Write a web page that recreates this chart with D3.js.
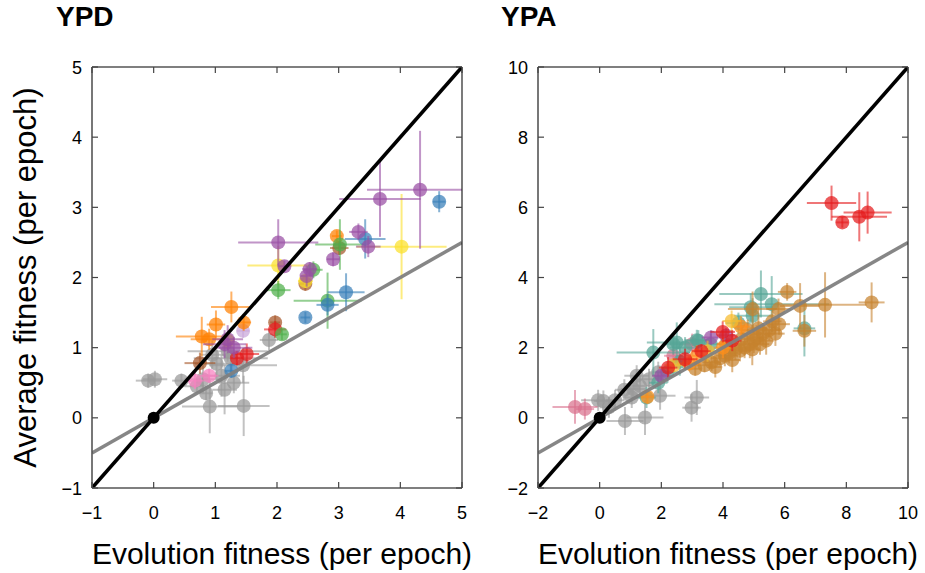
<!DOCTYPE html>
<html>
<head>
<meta charset="utf-8">
<script src="https://cdn.jsdelivr.net/npm/d3@7"></script>
<style>
  html, body { margin: 0; padding: 0; background: #fff; }
  svg { display: block; }
  text { font-family: "Liberation Sans", Arial, Helvetica, sans-serif; }
</style>
</head>
<body>
<svg id="chart" width="925" height="573"></svg>
<script>
// Each point: [evolution fitness, average fitness, x error, y error]
const ypdGray = [
  [-0.09, 0.53, 0.20, 0.10], [0.02, 0.55, 0.20, 0.12], [0.45, 0.53, 0.15, 0.10],
  [0.91, 0.16, 0.45, 0.38], [1.46, 0.17, 0.42, 0.43], [1.87, 1.11, 0.15, 0.15],
  [1.02, 0.77, 0.35, 0.20], [1.10, 0.60, 0.30, 0.30], [1.25, 0.85, 0.60, 0.20],
  [0.80, 0.55, 0.30, 0.20], [1.30, 0.50, 0.25, 0.15], [0.95, 0.90, 0.20, 0.20],
  [1.15, 0.40, 0.20, 0.35], [0.70, 0.45, 0.20, 0.10], [1.45, 0.75, 0.55, 0.25],
  [0.85, 0.35, 0.10, 0.10], [1.20, 0.95, 0.65, 0.15]
];
const ypdPink = [[0.67, 0.53, 0.15, 0.12], [0.90, 0.60, 0.15, 0.10]];
const ypdLilac = [[1.45, 1.24, 0.10, 0.10]];
const ypdBrown = [[3.01, 2.42, 0.15, 0.10], [2.46, 1.91, 0.10, 0.10], [1.97, 1.36, 0.08, 0.10], [0.75, 0.78, 0.25, 0.15]];
const ypdRed = [[1.97, 1.26, 0.18, 0.12], [1.51, 0.91, 0.20, 0.15], [1.35, 0.85, 0.10, 0.10]];
const ypdOrange = [
  [2.97, 2.59, 0.08, 0.08], [1.26, 1.58, 0.33, 0.22], [1.01, 1.33, 0.15, 0.20],
  [1.46, 1.36, 0.12, 0.12], [0.78, 1.16, 0.42, 0.28], [0.90, 1.12, 0.30, 0.15]
];
const ypdYellow = [[4.02, 2.44, 0.73, 0.75], [2.02, 2.17, 0.50, 0.28], [2.46, 1.95, 0.12, 0.10], [1.20, 1.10, 0.10, 0.10]];
const ypdGreen = [
  [3.02, 2.47, 0.40, 0.36], [2.02, 1.82, 0.20, 0.13], [2.59, 2.11, 0.15, 0.12],
  [2.82, 1.67, 0.55, 0.40], [2.08, 1.19, 0.08, 0.08]
];
const ypdBlue = [
  [4.63, 3.08, 0.10, 0.15], [3.43, 2.55, 0.33, 0.28], [3.12, 1.79, 0.30, 0.27],
  [2.82, 1.61, 0.18, 0.15], [2.46, 1.43, 0.08, 0.08], [1.26, 0.67, 0.10, 0.10]
];
const ypdPurple = [
  [4.32, 3.25, 0.86, 0.84], [3.67, 3.12, 0.66, 0.54], [2.02, 2.50, 0.65, 0.33],
  [3.32, 2.65, 0.15, 0.12], [3.48, 2.44, 0.20, 0.15], [2.91, 2.26, 0.10, 0.10],
  [2.53, 2.12, 0.12, 0.10], [2.48, 2.02, 0.10, 0.15], [2.12, 2.16, 0.10, 0.08],
  [1.15, 1.05, 0.35, 0.20], [1.30, 1.00, 0.30, 0.15], [1.20, 1.12, 0.25, 0.20]
];

const ypaGray = [
  [-0.05, 0.50, 0.55, 0.30], [0.12, 0.48, 0.30, 0.30], [0.82, -0.09, 0.60, 0.40],
  [1.47, 0.01, 0.60, 0.50], [1.09, 0.82, 0.40, 0.30], [1.96, 0.63, 0.50, 0.40],
  [3.15, 0.58, 0.40, 0.50], [2.98, 0.29, 0.30, 0.40], [1.31, 0.91, 0.40, 0.30],
  [1.04, 0.58, 0.30, 0.30], [0.50, 0.50, 0.30, 0.30], [0.30, 0.30, 0.30, 0.30],
  [1.60, 1.10, 0.50, 0.30], [1.20, 1.20, 0.40, 0.30], [0.80, 0.80, 0.30, 0.30],
  [1.90, 1.30, 0.30, 0.30]
];
const ypaPink = [[-0.80, 0.31, 0.73, 0.48], [-0.48, 0.25, 0.30, 0.30], [2.39, 1.77, 0.30, 0.30], [3.00, 2.10, 0.30, 0.30]];
const ypaTeal = [
  [5.23, 3.53, 1.35, 0.67], [5.58, 3.24, 1.86, 0.80], [6.64, 2.55, 0.35, 0.80],
  [4.96, 2.91, 0.60, 0.50], [4.90, 3.15, 0.70, 0.40], [3.20, 2.20, 0.43, 0.30],
  [2.50, 2.15, 0.97, 0.57], [1.74, 1.86, 1.19, 0.67], [2.77, 2.00, 0.50, 0.30],
  [3.15, 2.21, 0.40, 0.30], [2.39, 2.10, 0.30, 0.30], [1.52, 0.58, 0.30, 0.30],
  [1.90, 1.00, 0.30, 0.30], [2.20, 1.30, 0.40, 0.30], [3.60, 2.10, 0.30, 0.30],
  [4.50, 2.70, 0.40, 0.30], [2.60, 1.60, 0.40, 0.40]
];
const ypaBrown = [
  [8.82, 3.29, 0.42, 0.57], [7.31, 3.22, 1.35, 0.93], [6.08, 3.59, 0.30, 0.25],
  [6.50, 3.19, 0.65, 0.65], [6.64, 2.48, 0.38, 0.45], [4.96, 3.10, 0.80, 0.50],
  [5.82, 2.67, 0.35, 0.30], [4.06, 1.77, 0.30, 0.30], [3.63, 1.58, 0.30, 0.25],
  [4.55, 1.91, 0.35, 0.30], [4.87, 2.10, 0.30, 0.40], [5.09, 2.29, 0.35, 0.35],
  [5.30, 2.40, 0.30, 0.30], [5.50, 2.50, 0.35, 0.30], [4.70, 2.00, 0.30, 0.30],
  [5.00, 2.20, 0.25, 0.35], [4.40, 1.95, 0.30, 0.30], [5.20, 2.10, 0.30, 0.30],
  [5.60, 2.75, 0.30, 0.30], [4.20, 1.85, 0.30, 0.30], [3.90, 1.70, 0.30, 0.20],
  [3.40, 1.50, 0.30, 0.20], [3.10, 1.40, 0.20, 0.20], [5.80, 3.10, 0.40, 0.30],
  [4.80, 2.50, 0.30, 0.30], [4.95, 1.95, 0.25, 0.45], [5.15, 2.55, 0.30, 0.45],
  [4.60, 2.25, 0.30, 0.40], [5.40, 2.20, 0.25, 0.40], [4.30, 1.65, 0.25, 0.35],
  [3.75, 1.45, 0.20, 0.30], [5.70, 2.40, 0.30, 0.35], [4.10, 2.10, 0.30, 0.30]
];
const ypaPurple = [[3.61, 2.29, 0.30, 0.20], [4.10, 2.35, 0.30, 0.20], [2.00, 1.20, 0.30, 0.20]];
const ypaOrange = [[4.58, 2.60, 0.30, 0.30], [3.15, 1.77, 0.35, 0.30], [2.90, 1.55, 0.40, 0.20], [4.00, 2.00, 0.30, 0.30], [1.55, 0.60, 0.20, 0.20]];
const ypaGold = [[4.28, 2.76, 0.30, 0.30], [3.50, 1.90, 0.30, 0.30], [2.40, 1.50, 0.30, 0.20]];
const ypaRed = [
  [7.52, 6.12, 0.80, 0.50], [7.87, 5.57, 0.20, 0.15], [8.42, 5.73, 0.90, 0.70],
  [8.69, 5.85, 0.78, 0.60], [3.99, 2.45, 0.40, 0.30], [2.77, 1.67, 0.40, 0.30],
  [2.22, 1.43, 0.30, 0.30], [4.30, 2.20, 0.30, 0.30], [3.30, 1.90, 0.30, 0.20]
];

const ypdTicks = [-1, 0, 1, 2, 3, 4, 5];
const ypaTicks = [-2, 0, 2, 4, 6, 8, 10];

const ypdLayers = [
  { pts: ypdGray, color: "#999999" }, { pts: ypdPink, color: "#f781bf" },
  { pts: ypdLilac, color: "#c9a6d9" }, { pts: ypdBrown, color: "#a65628" },
  { pts: ypdRed, color: "#e41a1c" }, { pts: ypdOrange, color: "#ff7f00" },
  { pts: ypdYellow, color: "#fbe02a" }, { pts: ypdGreen, color: "#4daf4a" },
  { pts: ypdBlue, color: "#377eb8" }, { pts: ypdPurple, color: "#984ea3" }
];
const ypaLayers = [
  { pts: ypaGray, color: "#999999" }, { pts: ypaPink, color: "#d9728e" },
  { pts: ypaTeal, color: "#55a596" }, { pts: ypaBrown, color: "#c6822e" },
  { pts: ypaPurple, color: "#984ea3" }, { pts: ypaOrange, color: "#ff8f1a" },
  { pts: ypaGold, color: "#f6bb2c" }, { pts: ypaRed, color: "#e41a1c" }
];

const svg = d3.select("#chart");
const plotTop = 67, plotBottom = 488;

function panel(opts) {
  const { left, right, domain, ticks, title, layers } = opts;
  const x = d3.scaleLinear().domain(domain).range([left, right]);
  const y = d3.scaleLinear().domain(domain).range([plotBottom, plotTop]);
  const g = svg.append("g");
  const clipId = "clip-" + title;
  svg.append("clipPath").attr("id", clipId)
    .append("rect").attr("x", left).attr("y", plotTop)
    .attr("width", right - left).attr("height", plotBottom - plotTop);
  const plot = g.append("g").attr("clip-path", `url(#${clipId})`);

  layers.forEach(layer => {
    const lg = plot.append("g");
    const bars = lg.append("g")
      .attr("stroke", layer.color).attr("stroke-width", 2).attr("stroke-opacity", 0.6);
    bars.selectAll(".h").data(layer.pts).join("line")
      .attr("x1", d => x(d[0] - d[2])).attr("x2", d => x(d[0] + d[2]))
      .attr("y1", d => y(d[1])).attr("y2", d => y(d[1]));
    bars.selectAll(".v").data(layer.pts).join("line")
      .attr("x1", d => x(d[0])).attr("x2", d => x(d[0]))
      .attr("y1", d => y(d[1] - d[3])).attr("y2", d => y(d[1] + d[3]));
    lg.selectAll("circle").data(layer.pts).join("circle")
      .attr("cx", d => x(d[0])).attr("cy", d => y(d[1])).attr("r", 7)
      .attr("fill", layer.color).attr("fill-opacity", 0.72);
  });

  // reference lines: slope 1 (black) and slope 1/2 (gray)
  const [d0, d1] = domain;
  plot.append("line")
    .attr("x1", x(d0)).attr("y1", y(d0 / 2)).attr("x2", x(d1)).attr("y2", y(d1 / 2))
    .attr("stroke", "#7f7f7f").attr("stroke-width", 3.5).attr("stroke-opacity", 0.95);
  plot.append("line")
    .attr("x1", x(d0)).attr("y1", y(d0)).attr("x2", x(d1)).attr("y2", y(d1))
    .attr("stroke", "#000").attr("stroke-width", 3.6);
  g.append("circle").attr("cx", x(0)).attr("cy", y(0)).attr("r", 6).attr("fill", "#000");

  // frame with inward ticks on every side
  const tickLen = 6;
  g.append("line").attr("x1", left).attr("x2", right).attr("y1", plotTop).attr("y2", plotTop)
    .attr("stroke", "#000").attr("stroke-width", 1.2);
  g.append("line").attr("x1", right).attr("x2", right).attr("y1", plotTop).attr("y2", plotBottom)
    .attr("stroke", "#222").attr("stroke-width", 1.2);
  g.append("line").attr("x1", left).attr("x2", right).attr("y1", plotBottom).attr("y2", plotBottom)
    .attr("stroke", "#555").attr("stroke-width", 1.6);
  g.append("line").attr("x1", left).attr("x2", left).attr("y1", plotTop).attr("y2", plotBottom)
    .attr("stroke", "#555").attr("stroke-width", 1.6);

  const tk = g.append("g").attr("stroke", "#444").attr("stroke-width", 1.2);
  tk.selectAll(".tb").data(ticks).join("line")
    .attr("x1", d => x(d)).attr("x2", d => x(d)).attr("y1", plotBottom).attr("y2", plotBottom - tickLen);
  tk.selectAll(".tt").data(ticks).join("line")
    .attr("x1", d => x(d)).attr("x2", d => x(d)).attr("y1", plotTop).attr("y2", plotTop + tickLen);
  tk.selectAll(".tl").data(ticks).join("line")
    .attr("x1", left).attr("x2", left + tickLen).attr("y1", d => y(d)).attr("y2", d => y(d));
  tk.selectAll(".tr").data(ticks).join("line")
    .attr("x1", right).attr("x2", right - tickLen).attr("y1", d => y(d)).attr("y2", d => y(d));

  const fmt = d => (d < 0 ? "\u2212" + Math.abs(d) : String(d));
  g.selectAll(".xl").data(ticks).join("text")
    .attr("x", d => x(d)).attr("y", 519).attr("text-anchor", "middle")
    .attr("font-size", 18).attr("fill", "#000").text(fmt);
  g.selectAll(".yl").data(ticks).join("text")
    .attr("x", left - 10).attr("y", d => y(d) + 6.5).attr("text-anchor", "end")
    .attr("font-size", 18).attr("fill", "#000").text(fmt);

  g.append("text").attr("x", opts.titleX).attr("y", 26)
    .attr("font-size", 28).attr("font-weight", "bold").attr("fill", "#000").text(title);

  g.append("text").attr("x", (left + right) / 2 + 5).attr("y", 564)
    .attr("text-anchor", "middle").attr("font-size", 30).attr("fill", "#000")
    .text("Evolution fitness (per epoch)");
}

panel({ left: 92, right: 462, domain: [-1, 5], ticks: ypdTicks, title: "YPD", titleX: 56, layers: ypdLayers });
panel({ left: 538, right: 908, domain: [-2, 10], ticks: ypaTicks, title: "YPA", titleX: 501, layers: ypaLayers });

svg.append("text")
  .attr("transform", "translate(36," + (plotTop + plotBottom) / 2 + ") rotate(-90)")
  .attr("text-anchor", "middle").attr("font-size", 31).attr("fill", "#000")
  .text("Average fitness (per epoch)");
</script>
</body>
</html>
